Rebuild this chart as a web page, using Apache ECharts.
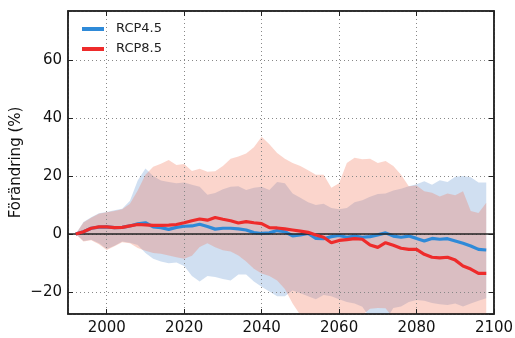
<!DOCTYPE html>
<html><head><meta charset="utf-8">
<script src="https://cdn.jsdelivr.net/npm/echarts/dist/echarts.min.js"></script>
<style>html,body{margin:0;padding:0;background:#fff}#c{width:515px;height:338px}</style>
</head><body><div id="c"></div>
<script>
const years = [1992,1994,1996,1998,2000,2002,2004,2006,2008,2010,2012,2014,2016,2018,2020,2022,2024,2026,2028,2030,2032,2034,2036,2038,2040,2042,2044,2046,2048,2050,2052,2054,2056,2058,2060,2062,2064,2066,2068,2070,2072,2074,2076,2078,2080,2082,2084,2086,2088,2090,2092,2094,2096,2098];
const rcp45 = [0,0.8,2.0,2.4,2.5,2.2,2.3,2.8,3.5,3.9,2.5,2.2,1.6,2.3,2.7,2.8,3.4,2.6,1.7,2.0,2.0,1.8,1.4,0.5,0.2,0.4,1.2,0.8,-0.6,-0.3,0.2,-1.5,-1.6,-0.9,-0.5,-1.1,-0.7,-1.1,-0.9,-0.3,0.4,-0.7,-1.1,-0.7,-1.5,-2.4,-1.5,-1.8,-1.6,-2.4,-3.2,-4.1,-5.3,-5.5];
const rcp85 = [0,0.8,2.0,2.5,2.5,2.2,2.3,2.8,3.3,3.2,3.0,3.0,3.1,3.3,3.9,4.6,5.2,4.8,5.7,5.1,4.6,3.8,4.3,3.9,3.6,2.2,2.1,1.8,1.4,1.0,0.6,-0.3,-1.1,-3.0,-2.2,-1.9,-1.6,-1.8,-3.8,-4.6,-3.0,-3.9,-4.9,-5.3,-5.3,-7.0,-8.0,-8.2,-8.0,-9.0,-11.0,-12.1,-13.6,-13.6];
const rcp45Max = [0,4.2,5.8,7.2,7.6,8.2,8.7,11.5,18.5,22.6,20.0,18.5,18.0,17.5,17.8,17.0,16.3,13.6,14.2,15.5,16.3,16.5,15.2,16.0,16.3,15.2,18.0,17.5,14.0,12.5,11.0,10.0,10.5,9.0,8.6,9.0,11.0,11.7,12.9,13.8,14.0,15.0,15.6,16.5,17.2,18.2,17.0,18.6,18.0,19.8,20.0,19.6,17.8,17.8];
const rcp45Min = [0,-2.4,-2.0,-3.2,-5.2,-4.0,-2.6,-3.0,-3.8,-6.5,-8.5,-9.5,-10.1,-9.8,-11.0,-14.5,-16.4,-14.5,-14.8,-15.5,-16.0,-14.0,-14.0,-16.4,-18.2,-19.8,-21.5,-21.5,-19.5,-20.4,-21.5,-22.5,-21.0,-21.5,-22.5,-23.5,-24.0,-25.1,-29.0,-30.0,-30.0,-25.5,-25.0,-23.5,-22.8,-23.0,-23.8,-24.2,-24.5,-24.0,-25.0,-24.0,-23.0,-22.2];
const rcp85Max = [0,4.0,5.6,7.0,7.5,8.0,8.6,10.5,15.0,20.5,23.2,24.3,25.6,23.8,24.2,21.8,22.5,21.5,21.7,23.5,26.0,26.8,27.8,30.0,33.6,31.0,28.0,26.0,24.5,23.5,22.0,20.5,20.5,16.0,17.5,24.5,26.3,25.8,26.0,24.5,25.2,23.5,20.5,16.5,16.8,14.8,14.3,13.0,14.0,13.4,14.8,8.0,7.3,10.8];
const rcp85Min = [0,-2.6,-2.1,-3.5,-5.5,-4.2,-2.8,-3.2,-4.8,-5.8,-6.5,-6.8,-7.4,-8.0,-8.5,-7.5,-4.5,-3.2,-4.6,-5.6,-6.0,-7.4,-9.5,-12.0,-13.6,-14.5,-16.0,-19.0,-24.0,-28.0,-30.0,-31.0,-30.0,-32.0,-31.0,-30.0,-31.0,-28.0,-25.8,-25.5,-25.6,-29.0,-30.0,-31.0,-30.0,-31.0,-30.0,-31.0,-30.0,-31.0,-30.0,-31.0,-30.0,-31.0];
const seriesNames = ['RCP4.5','RCP8.5'];
const yTitle = 'Förändring (%)';

const FONT = 'DejaVu Sans';
const pairs = (arr) => years.map((y, i) => [y, arr[i]]);

function band(lo, hi, color, axisIdx) {
  return {
    type:'custom', xAxisIndex:axisIdx, yAxisIndex:axisIdx, clip:true, silent:true, z:1,
    data: years.map((y, i) => [y, lo[i], hi[i]]),
    encode:{x:0, y:[1,2]},
    renderItem: (params, api) => {
      if (params.dataIndex !== 0) return null;
      const top = [], bot = [];
      for (let i = 0; i < years.length; i++) {
        top.push(api.coord([years[i], hi[i]]));
        bot.push(api.coord([years[i], lo[i]]));
      }
      const cs = params.coordSys;
      return {
        type:'polygon', shape:{points: top.concat(bot.reverse())},
        style:{fill: color, stroke:null},
        clipPath:{type:'rect', shape:{x:cs.x, y:cs.y, width:cs.width, height:cs.height}}
      };
    }
  };
}

const gridDash = [1, 3];
const chart = echarts.init(document.getElementById('c'), null, {renderer:'canvas'});
chart.setOption({
  animation:false,
  backgroundColor:'#fff',
  grid:{left:68, right:21, top:11, bottom:24, containLabel:false, outerBoundsMode:'none',
        show:true, borderColor:'#222', borderWidth:1.5, backgroundColor:'transparent'},
  legend:{
    data: seriesNames, orient:'vertical', left:82, top:21, padding:0, itemGap:4,
    icon:'rect', itemWidth:22, itemHeight:4,
    textStyle:{fontFamily:FONT, fontSize:13, color:'#222', lineHeight:16, padding:[0,0,0,7]}
  },
  xAxis:[
    { type:'value', min:1990, max:2100, splitNumber:5, z:3,
      axisLine:{show:true, onZero:false, lineStyle:{color:'#222', width:1.5}},
      axisTick:{show:true, inside:true, length:5, lineStyle:{color:'#222'}},
      axisLabel:{show:true, showMinLabel:false, margin:7, fontFamily:FONT, fontSize:15, color:'#111',
        formatter:(v)=> String(v)},
      splitLine:{show:true, lineStyle:{color:'#888', width:1, type:gridDash}} },
    { type:'value', position:'top', min:1990, max:2100, splitNumber:5, z:3,
      axisLine:{show:true, onZero:false, lineStyle:{color:'#222', width:1.5}},
      axisTick:{show:true, inside:true, length:5, lineStyle:{color:'#222'}},
      axisLabel:{show:false}, splitLine:{show:false} }
  ],
  yAxis:[
    { type:'value', min:-27.6, max:77, splitNumber:5, z:3,
      name: yTitle, nameLocation:'middle', nameGap:44, nameRotate:90, nameMoveOverlap:false,
      nameTextStyle:{fontFamily:FONT, fontSize:15, color:'#111'},
      axisLine:{show:true, onZero:false, lineStyle:{color:'#222', width:1.5}},
      axisTick:{show:true, inside:true, length:5, lineStyle:{color:'#222'}},
      axisLabel:{show:true, showMinLabel:false, showMaxLabel:false, margin:6, fontFamily:FONT, fontSize:15, color:'#111',
        formatter:(v)=> String(v).replace('-', '\u2212')},
      splitLine:{show:true, lineStyle:{color:'#888', width:1, type:gridDash}} },
    { type:'value', position:'right', min:-27.6, max:77, splitNumber:5, z:3,
      axisLine:{show:true, onZero:false, lineStyle:{color:'#222', width:1.5}},
      axisTick:{show:true, inside:true, length:5, lineStyle:{color:'#222'}},
      axisLabel:{show:false}, splitLine:{show:false} }
  ],
  series:[
    band(rcp45Min, rcp45Max, 'rgba(100,150,210,0.3)', 0),
    band(rcp85Min, rcp85Max, 'rgba(242,115,85,0.3)', 1),
    { type:'line', name:'zero', data:[], symbol:'none', z:3, silent:true,
      markLine:{silent:true, symbol:'none', label:{show:false},
        lineStyle:{color:'#222', width:1.5, type:'solid'}, data:[{yAxis:0}]} },
    { type:'line', name: seriesNames[0], data: pairs(rcp45), symbol:'none', z:4,
      color:'#2f8ad8', lineStyle:{color:'#2f8ad8', width:3.2} },
    { type:'line', name: seriesNames[1], data: pairs(rcp85), symbol:'none', z:5,
      color:'#ee2b2b', lineStyle:{color:'#ee2b2b', width:3.2} }
  ]
});
</script></body></html>
